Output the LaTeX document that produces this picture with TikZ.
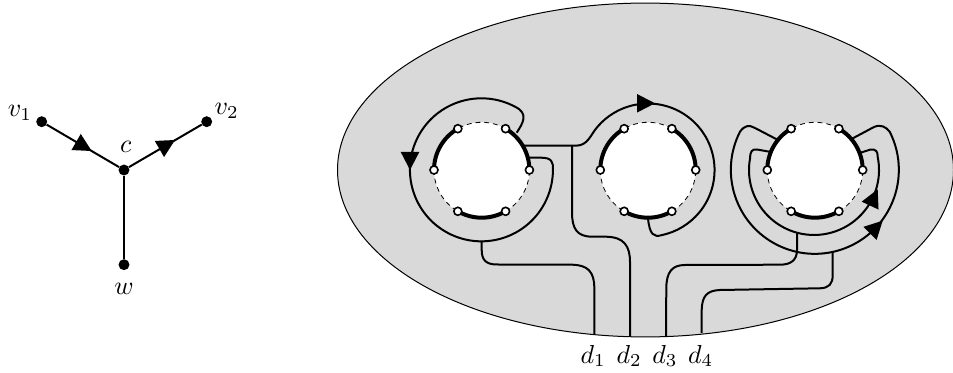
\documentclass[tikz,border=0pt]{standalone}
\usetikzlibrary{calc}
\tikzset{
  wire/.style={line width=1.5pt,line join=round},
  lab/.style={scale=1.95,inner sep=0pt},
  gdot/.style={circle,fill=black,draw=none,inner sep=0pt,minimum size=8.2pt},
  holept/.style={circle,fill=white,draw=black,line width=1.2pt,inner sep=0pt,minimum size=6pt},
  holeedge/.style={line width=.6pt,dash pattern=on 3.6pt off 3pt},
  holearc/.style={line width=3pt},
  arrowhead/.pic={\fill[black] (0,0)--(-18,9.3)--(-18,-9.3)--cycle;}
}
\definecolor{regiongray}{HTML}{D9D9D9}
\begin{document}
\begin{tikzpicture}[x=.75pt,y=-.75pt]
\useasboundingbox (0,0) rectangle (953,373);
% star graph
\node[gdot] (v1) at (41.7,121.7) {};
\node[gdot] (v2) at (206.7,121.7) {};
\node[gdot] (c) at (124,170) {};
\node[gdot] (w) at (124,264.7) {};
\draw[wire] (v1) -- (c);
\draw[wire] (v2) -- (c);
\draw[wire] (c) -- (w);
\path (91.7,151) pic[rotate=-30] {arrowhead};
\path (175,140) pic[rotate=30] {arrowhead};
\node[lab] (lv1) at (20,112.7) {$v_1$};
\node[lab] (lv2) at (226.7,110.5) {$v_2$};
\node[lab] (lc) at (125.7,146.7) {$c$};
\node[lab] (lw) at (124,289) {$w$};
% surface
\coordinate (E) at (645.5,170);
\fill[regiongray] (E) ellipse [x radius=231pt,y radius=125.2pt];
\draw[line width=.75pt] (E) ellipse [x radius=231pt,y radius=125.2pt];
% boundary points
\coordinate (D1) at (594.3,335);
\coordinate (D2) at (630,336.5);
\coordinate (D3) at (666,336.5);
\coordinate (D4) at (701.7,333);
% left hole wires
\draw[wire] (516.7,132.7) .. controls (523,123) and (529,113.5) .. (515,106.7)
  arc[start angle=62,end angle=360,radius=71.5*.75pt]
  .. controls (553.2,162) and (552,157.7) .. (541,157.7) -- (527.8,157.7);
\draw[wire] (481.7,241) -- (481.7,250) .. controls (481.7,260) and (486,264.5) .. (497,264.5)
  -- (572,264.7) .. controls (588,265) and (594.3,272) .. (594.3,288) -- (D1);
\draw[wire] (523,145.7) -- (576,145.7) .. controls (588,145.7) and (591,134) .. (597.1,127.3)
  arc[start angle=140,end angle=-78,radius=66.5*.75pt]
  .. controls (654,237.5) and (649.5,235) .. (648,218);
\draw[wire] (572,145.7) -- (572,212) .. controls (572,229) and (577,236.5) .. (592,236.7)
  -- (606,236.7) .. controls (624,237) and (630,246) .. (630,262) -- (D2);
% right hole wires
\draw[wire] (778,140) -- (755,128) .. controls (749,124.5) and (744.5,125.5) .. (740,131.7)
  arc[start angle=153,end angle=387,radius=84*.75pt]
  .. controls (886,127) and (881,124) .. (874,127) -- (851.5,139);
\draw[wire] (771,152) -- (757,149.5) .. controls (752,148.5) and (750,152) .. (750,158.7)
  arc[start angle=170,end angle=372,radius=65*.75pt]
  .. controls (878,152) and (876,148.5) .. (870,149.7) -- (859.5,153);
\draw[wire] (797,233) -- (797,250) .. controls (797,260) and (791,264.7) .. (780,264.7)
  -- (685,265) .. controls (672,265) and (666.5,272) .. (666.3,288) -- (D3);
\draw[wire] (832.7,252) -- (832.7,275) .. controls (832.7,284) and (829,288) .. (820,288.3)
  -- (720,290) .. controls (707,290.5) and (702,296) .. (701.7,310) -- (D4);
% arrowheads on the surface
\path (410,170) pic[rotate=-90] {arrowhead};
\path (655,103.3) pic {arrowhead};
\path (877.7,189.3) pic[rotate=65] {arrowhead};
\path (882.7,220.7) pic[rotate=45] {arrowhead};
% holes
\foreach \C/\N/\X in {CL/L/481.7,CM/M/648,CR/R/815}{
  \coordinate (\C) at (\X,170);
  \fill[white] (\C) circle [radius=47.7*.75pt];
  \foreach \i in {0,...,5}{
    \coordinate (\N\i) at ($(\C)+({47.7*cos(60*\i)},{-47.7*sin(60*\i)})$);
  }
  \foreach \a/\i in {60/1,180/3,300/5}{
    \draw[holeedge] (\N\i) arc[start angle=\a,end angle=\a+60,radius=47.7*.75pt];
  }
  \foreach \a/\i in {0/0,120/2,240/4}{
    \draw[holearc] (\N\i) arc[start angle=\a,end angle=\a+60,radius=47.7*.75pt];
  }
  \foreach \i in {0,...,5}{
    \node[holept] (\N p\i) at (\N\i) {};
  }
}
\node[lab] (ld1) at (593.3,356) {$d_1$};
\node[lab] (ld2) at (629.3,356) {$d_2$};
\node[lab] (ld3) at (665,356) {$d_3$};
\node[lab] (ld4) at (700.7,356) {$d_4$};
\end{tikzpicture}
\end{document}
